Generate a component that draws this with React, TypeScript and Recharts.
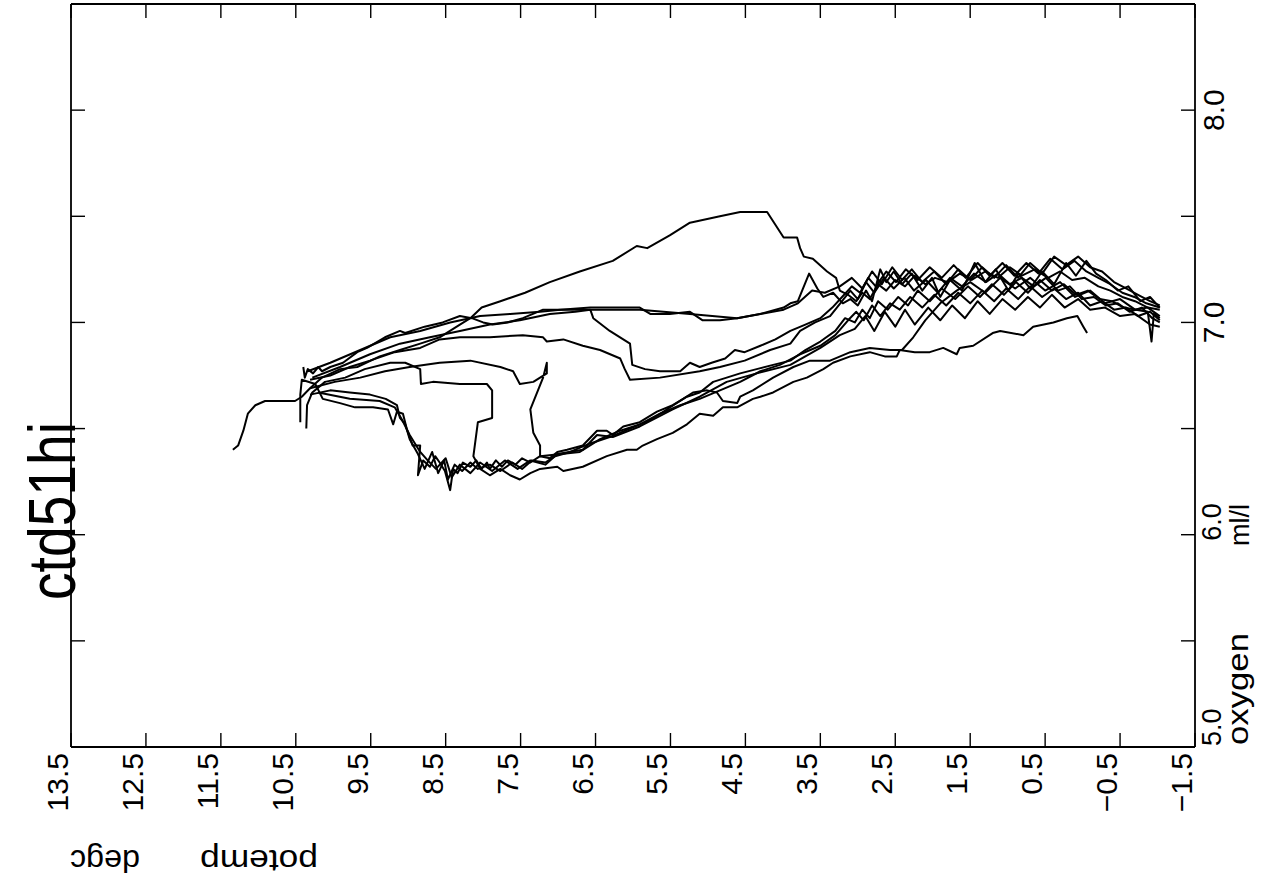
import { LineChart, Line, XAxis, YAxis } from 'recharts'

// each cast is a list of [potemp degc, oxygen ml/l] readings, warm end first
type Pt = [number, number]

const cast01: Pt[] = [
  [11.34, 6.40], [11.27, 6.42], [11.2, 6.49], [11.14, 6.57], [11.04, 6.61], [10.91, 6.63], [10.71, 6.63],
  [10.51, 6.63], [10.42, 6.65], [10.31, 6.69], [10.15, 6.74], [9.91, 6.78], [9.68, 6.79], [9.38, 6.84],
  [9.11, 6.87], [8.84, 6.9], [8.58, 6.93], [8.31, 6.99], [8.17, 7.02], [8.02, 7.07], [7.77, 7.1],
  [7.44, 7.14], [7.11, 7.19], [6.71, 7.24], [6.27, 7.29], [5.95, 7.36], [5.81, 7.35], [5.51, 7.41],
  [5.24, 7.47], [4.84, 7.5], [4.57, 7.52], [4.21, 7.52], [4.1, 7.46], [3.99, 7.4], [3.81, 7.4],
  [3.77, 7.35], [3.72, 7.31], [3.6, 7.3], [3.41, 7.24], [3.29, 7.21], [3.24, 7.15], [3.13, 7.13],
  [3.02, 7.1], [2.94, 7.14], [2.84, 7.11], [2.73, 7.18], [2.62, 7.15], [2.5, 7.2], [2.37, 7.17],
  [2.24, 7.22], [2.1, 7.18], [1.97, 7.21], [1.8, 7.19], [1.64, 7.23], [1.48, 7.2], [1.3, 7.24],
  [1.13, 7.21], [0.97, 7.26], [0.81, 7.22], [0.64, 7.25], [0.46, 7.21], [0.3, 7.24], [0.14, 7.2],
  [-0.03, 7.21], [-0.21, 7.17], [-0.37, 7.15], [-0.53, 7.12], [-0.7, 7.1], [-0.87, 7.07], [-1.03, 7.06],
]

const cast02: Pt[] = [
  [10.4, 6.79], [10.38, 6.74], [10.34, 6.78], [10.27, 6.76], [10.2, 6.79], [10.15, 6.77], [10.04, 6.79],
  [9.87, 6.81], [9.68, 6.86], [9.55, 6.88], [9.31, 6.93], [9.11, 6.96], [9.04, 6.95], [8.78, 6.98],
  [8.54, 7.0], [8.31, 7.03], [8.15, 7.02], [8.0, 7.0], [7.87, 6.99], [7.67, 7.0], [7.47, 7.02],
  [7.2, 7.06], [6.97, 7.06], [6.57, 7.07], [6.24, 7.07], [5.91, 7.07], [5.77, 7.04], [5.51, 7.04],
  [5.24, 7.05], [5.07, 7.01], [4.84, 7.01], [4.61, 7.02], [4.3, 7.04], [3.99, 7.07], [3.9, 7.09],
  [3.8, 7.1], [3.65, 7.23], [3.54, 7.16], [3.46, 7.12], [3.33, 7.14], [3.2, 7.09], [3.1, 7.11],
  [3.0, 7.08], [2.89, 7.15], [2.81, 7.1], [2.7, 7.25], [2.62, 7.19], [2.52, 7.24], [2.41, 7.18],
  [2.28, 7.23], [2.14, 7.15], [2.01, 7.21], [1.9, 7.12], [1.77, 7.2], [1.61, 7.15], [1.44, 7.28],
  [1.3, 7.19], [1.16, 7.25], [0.99, 7.15], [0.86, 7.23], [0.7, 7.16], [0.54, 7.24], [0.38, 7.18],
  [0.22, 7.28], [0.09, 7.22], [-0.05, 7.29], [-0.18, 7.23], [-0.31, 7.2], [-0.47, 7.15], [-0.61, 7.17],
  [-0.77, 7.1], [-0.9, 7.12], [-1.03, 7.07],
]

const cast03: Pt[] = [
  [10.44, 6.53], [10.44, 6.66], [10.42, 6.73], [10.24, 6.71], [10.14, 6.64], [9.91, 6.62], [9.71, 6.6],
  [9.47, 6.6], [9.27, 6.59], [9.2, 6.52], [9.15, 6.58], [9.07, 6.57], [9.02, 6.5], [8.94, 6.42],
  [8.84, 6.42], [8.87, 6.28], [8.8, 6.35], [8.71, 6.32], [8.64, 6.37], [8.58, 6.34], [8.51, 6.3],
  [8.44, 6.21], [8.4, 6.31], [8.34, 6.29], [8.27, 6.34], [8.17, 6.32], [8.09, 6.35], [8.02, 6.31],
  [7.95, 6.34], [7.91, 6.31], [7.83, 6.35], [7.75, 6.32], [7.67, 6.35], [7.57, 6.33], [7.48, 6.36],
  [7.37, 6.34], [7.24, 6.37], [7.11, 6.36], [7.01, 6.39], [6.88, 6.4], [6.67, 6.42], [6.48, 6.49],
  [6.35, 6.49], [6.27, 6.47], [6.13, 6.51], [5.91, 6.53], [5.68, 6.58], [5.47, 6.61], [5.28, 6.65],
  [5.11, 6.67], [4.93, 6.72], [4.75, 6.74], [4.57, 6.76], [4.35, 6.78], [4.13, 6.8], [3.9, 6.82],
  [3.7, 6.87], [3.5, 6.91], [3.3, 6.96], [3.17, 7.02], [3.04, 7.0], [2.94, 7.06], [2.84, 7.02],
  [2.73, 7.1], [2.6, 7.06], [2.46, 7.12], [2.33, 7.08], [2.2, 7.15], [2.04, 7.1], [1.88, 7.16],
  [1.7, 7.11], [1.53, 7.17], [1.37, 7.12], [1.21, 7.18], [1.05, 7.13], [0.89, 7.19], [0.73, 7.14],
  [0.57, 7.2], [0.41, 7.15], [0.25, 7.18], [0.09, 7.13], [-0.07, 7.15], [-0.23, 7.11], [-0.39, 7.1],
  [-0.55, 7.07], [-0.71, 7.06], [-0.87, 7.05], [-0.92, 6.91], [-0.95, 7.04], [-1.03, 7.02],
]

const cast04: Pt[] = [
  [10.36, 6.5], [10.35, 6.61], [10.28, 6.67], [10.11, 6.72], [9.84, 6.74], [9.58, 6.78], [9.24, 6.81],
  [9.04, 6.81], [8.84, 6.78], [8.83, 6.71], [8.67, 6.72], [8.31, 6.71], [7.95, 6.71], [7.88, 6.68],
  [7.88, 6.55], [8.07, 6.53], [8.13, 6.37], [8.04, 6.31], [7.91, 6.28], [7.77, 6.31], [7.64, 6.28],
  [7.51, 6.26], [7.37, 6.29], [7.24, 6.31], [7.01, 6.32], [6.93, 6.3], [6.67, 6.32], [6.35, 6.37],
  [6.08, 6.4], [5.95, 6.4], [5.87, 6.42], [5.68, 6.45], [5.47, 6.48], [5.28, 6.52], [5.11, 6.57],
  [4.93, 6.56], [4.8, 6.6], [4.61, 6.6], [4.4, 6.64], [4.3, 6.65], [4.13, 6.67], [3.86, 6.72],
  [3.68, 6.74], [3.46, 6.78], [3.33, 6.81], [3.1, 6.84], [2.84, 6.86], [2.64, 6.84], [2.48, 6.84],
  [2.44, 6.87], [2.24, 6.86], [2.04, 6.86], [1.86, 6.88], [1.68, 6.85], [1.64, 6.88], [1.46, 6.89],
  [1.2, 6.95], [1.1, 6.96], [0.79, 6.94], [0.66, 6.98], [0.39, 7.0], [0.21, 7.02], [0.07, 7.03],
  [-0.01, 6.98], [-0.06, 6.95],
]

const cast05: Pt[] = [
  [10.31, 6.66], [10.04, 6.68], [9.78, 6.67], [9.51, 6.66], [9.3, 6.64], [9.15, 6.61], [9.11, 6.55],
  [9.04, 6.52], [8.98, 6.45], [8.87, 6.38], [8.78, 6.31], [8.68, 6.39], [8.6, 6.29], [8.52, 6.35],
  [8.47, 6.26], [8.38, 6.33], [8.28, 6.3], [8.17, 6.34], [8.07, 6.31], [7.91, 6.33], [7.77, 6.3],
  [7.61, 6.34], [7.48, 6.31], [7.35, 6.35], [7.17, 6.34], [7.04, 6.37], [6.84, 6.39], [6.57, 6.43],
  [6.31, 6.46], [6.04, 6.5], [5.77, 6.54], [5.55, 6.59], [5.33, 6.64], [5.2, 6.67], [5.01, 6.68],
  [4.88, 6.67], [4.8, 6.63], [4.61, 6.62], [4.57, 6.65], [4.4, 6.68], [4.13, 6.74], [3.86, 6.79],
  [3.64, 6.82], [3.37, 6.82], [3.1, 6.86], [2.84, 6.88], [2.57, 6.87], [2.41, 6.87], [2.26, 6.93],
  [2.1, 7.01], [1.9, 7.09], [1.68, 7.15], [1.5, 7.19], [1.3, 7.14], [1.1, 7.21], [0.9, 7.16],
  [0.7, 7.21], [0.5, 7.15], [0.3, 7.19], [0.1, 7.12], [-0.1, 7.15], [-0.3, 7.09], [-0.5, 7.11],
  [-0.7, 7.06], [-0.87, 7.07], [-1.03, 7.03],
]

const cast06: Pt[] = [
  [10.31, 6.73], [10.04, 6.75], [9.78, 6.79], [9.51, 6.82], [9.18, 6.86], [8.84, 6.88], [8.58, 6.92],
  [8.31, 6.93], [7.91, 6.93], [7.47, 6.94], [7.2, 6.93], [7.15, 6.91], [6.93, 6.92], [6.67, 6.89],
  [6.44, 6.87], [6.17, 6.83], [6.11, 6.78], [6.04, 6.73], [5.64, 6.74], [5.11, 6.77], [4.84, 6.79],
  [4.51, 6.82], [4.17, 6.87], [3.9, 6.9], [3.77, 6.96], [3.57, 7.0], [3.37, 7.03], [3.21, 7.1],
  [3.1, 7.15], [3.0, 7.11], [2.89, 7.19], [2.78, 7.14], [2.65, 7.21], [2.52, 7.16], [2.38, 7.21],
  [2.25, 7.15], [2.09, 7.2], [1.93, 7.14], [1.77, 7.21], [1.61, 7.17], [1.45, 7.23], [1.29, 7.19],
  [1.13, 7.23], [0.97, 7.18], [0.81, 7.21], [0.65, 7.17], [0.49, 7.21], [0.33, 7.15], [0.17, 7.17],
  [0.01, 7.11], [-0.15, 7.12], [-0.31, 7.08], [-0.47, 7.09], [-0.63, 7.05], [-0.79, 7.07], [-0.93, 7.02],
  [-1.03, 7.0],
]

const cast07: Pt[] = [
  [10.31, 6.69], [9.98, 6.72], [9.64, 6.74], [9.31, 6.77], [8.98, 6.79], [8.58, 6.81], [8.17, 6.82],
  [7.77, 6.79], [7.6, 6.77], [7.51, 6.71], [7.33, 6.72], [7.15, 6.76], [7.15, 6.81], [7.2, 6.74],
  [7.37, 6.59], [7.33, 6.48], [7.24, 6.42], [7.24, 6.37], [6.71, 6.39], [6.44, 6.45], [6.17, 6.49],
  [5.91, 6.52], [5.64, 6.57], [5.37, 6.61], [5.11, 6.64], [4.84, 6.68], [4.57, 6.72], [4.3, 6.77],
  [4.04, 6.8], [3.77, 6.85], [3.5, 6.89], [3.3, 6.94], [3.13, 7.01], [3.02, 7.05], [2.92, 7.01],
  [2.81, 7.08], [2.7, 7.03], [2.57, 7.09], [2.44, 7.06], [2.3, 7.12], [2.14, 7.07], [1.98, 7.13],
  [1.82, 7.08], [1.66, 7.14], [1.5, 7.09], [1.34, 7.15], [1.18, 7.1], [1.02, 7.16], [0.86, 7.11],
  [0.7, 7.17], [0.54, 7.12], [0.38, 7.16], [0.22, 7.11], [0.06, 7.14], [-0.1, 7.08], [-0.26, 7.1],
  [-0.42, 7.06], [-0.58, 7.07], [-0.74, 7.03], [-0.9, 7.05], [-1.03, 7.01],
]

const cast08: Pt[] = [
  [10.28, 6.74], [9.91, 6.79], [9.51, 6.85], [9.11, 6.9], [8.71, 6.93], [8.31, 6.96], [7.91, 6.99],
  [7.51, 7.01], [7.11, 7.04], [6.77, 7.05], [6.57, 7.06], [6.53, 7.02], [6.31, 6.96], [6.04, 6.9],
  [6.01, 6.8], [5.84, 6.78], [5.64, 6.77], [5.37, 6.77], [5.24, 6.81], [5.11, 6.79], [4.95, 6.81],
  [4.77, 6.83], [4.64, 6.87], [4.51, 6.86], [4.3, 6.89], [4.1, 6.92], [3.9, 6.96], [3.7, 6.99],
  [3.5, 7.02], [3.34, 7.07], [3.21, 7.12], [3.08, 7.17], [2.97, 7.14], [2.86, 7.21], [2.76, 7.17],
  [2.62, 7.24], [2.49, 7.19], [2.36, 7.25], [2.2, 7.2], [2.04, 7.26], [1.88, 7.21], [1.72, 7.27],
  [1.56, 7.21], [1.4, 7.28], [1.24, 7.22], [1.07, 7.28], [0.91, 7.22], [0.75, 7.28], [0.59, 7.23],
  [0.43, 7.3], [0.27, 7.25], [0.11, 7.29], [-0.05, 7.24], [-0.21, 7.21], [-0.37, 7.18], [-0.53, 7.14],
  [-0.69, 7.12], [-0.85, 7.09], [-1.03, 7.07],
]

const cast09: Pt[] = [
  [10.2, 6.67], [9.78, 6.64], [9.38, 6.63], [9.18, 6.6], [9.08, 6.54], [8.98, 6.47], [8.84, 6.39],
  [8.74, 6.35], [8.63, 6.31], [8.5, 6.36], [8.42, 6.27], [8.31, 6.33], [8.17, 6.29], [8.04, 6.34],
  [7.88, 6.3], [7.71, 6.35], [7.54, 6.31], [7.37, 6.35], [7.17, 6.33], [7.01, 6.38], [6.67, 6.4],
  [6.48, 6.47], [6.27, 6.46], [5.91, 6.51], [5.47, 6.59], [5.11, 6.65], [4.75, 6.72], [4.35, 6.76],
  [3.9, 6.8], [3.5, 6.88], [3.24, 6.94], [3.04, 6.97], [2.9, 7.03], [2.78, 6.96], [2.64, 7.05],
  [2.5, 6.98], [2.37, 7.06], [2.24, 6.99], [2.06, 7.07], [1.9, 7.01], [1.74, 7.08], [1.57, 7.02],
  [1.4, 7.1], [1.24, 7.04], [1.07, 7.11], [0.9, 7.06], [0.73, 7.12], [0.57, 7.07], [0.41, 7.13],
  [0.24, 7.07], [0.06, 7.11], [-0.1, 7.06], [-0.3, 7.07], [-0.5, 7.03], [-0.7, 7.04], [-0.9, 6.99],
  [-1.03, 6.98],
]

const cast10: Pt[] = [
  [10.34, 6.77], [10.04, 6.81], [9.64, 6.87], [9.24, 6.93], [8.84, 6.96], [8.44, 7.0], [8.04, 7.03],
  [7.64, 7.04], [7.24, 7.05], [6.97, 7.06], [6.57, 7.06], [5.91, 7.06], [5.24, 7.04], [4.61, 7.02],
  [3.99, 7.06], [3.8, 7.09], [3.61, 7.15], [3.44, 7.14], [3.24, 7.17], [3.08, 7.21], [2.94, 7.16],
  [2.81, 7.24], [2.68, 7.18], [2.54, 7.26], [2.41, 7.2], [2.28, 7.25], [2.14, 7.19], [1.98, 7.24],
  [1.82, 7.18], [1.66, 7.25], [1.5, 7.2], [1.34, 7.26], [1.18, 7.21], [1.02, 7.27], [0.86, 7.21],
  [0.7, 7.28], [0.54, 7.23], [0.38, 7.31], [0.22, 7.27], [0.06, 7.31], [-0.1, 7.26], [-0.26, 7.24],
  [-0.42, 7.19], [-0.58, 7.16], [-0.74, 7.13], [-0.9, 7.1], [-1.03, 7.08],
]

const casts = [cast01, cast02, cast03, cast04, cast05, cast06, cast07, cast08, cast09, cast10]

const potempTicks = [13.5, 12.5, 11.5, 10.5, 9.5, 8.5, 7.5, 6.5, 5.5, 4.5, 3.5, 2.5, 1.5, 0.5, -0.5, -1.5]
const oxygenTicks = [5, 5.5, 6, 6.5, 7, 7.5, 8, 8.5]

const FONT = '"Liberation Sans", Arial, sans-serif'
const INK = '#000'
const TICK = 14

function fmtPotemp(v: number) {
  return v < 0 ? '\u2212' + Math.abs(v).toFixed(1) : v.toFixed(1)
}

function BottomTick(props: any) {
  const { x, y, payload } = props
  const tx = x - 3
  const ty = y + 6
  return (
    <g>
      <line x1={x} y1={y} x2={x} y2={y - TICK} stroke={INK} strokeWidth={1.4} />
      <text
        x={tx}
        y={ty}
        textAnchor="end"
        transform={`rotate(-90, ${tx}, ${ty})`}
        fontFamily={FONT}
        fontSize={30}
        fill={INK}
      >
        {fmtPotemp(payload.value)}
      </text>
    </g>
  )
}

function TopTick(props: any) {
  const { x, y } = props
  return <line x1={x} y1={y} x2={x} y2={y + TICK} stroke={INK} strokeWidth={1.4} />
}

function LeftTick(props: any) {
  const { x, y } = props
  return <line x1={x} y1={y} x2={x + TICK} y2={y} stroke={INK} strokeWidth={1.4} />
}

function RightTick(props: any) {
  const { x, y, payload } = props
  const v = payload.value as number
  let label = null
  if (v === 7 || v === 8) {
    const tx = x + 29
    label = (
      <text x={tx} y={y} textAnchor="middle" transform={`rotate(-90, ${tx}, ${y})`}
        fontFamily={FONT} fontSize={30} fill={INK}>
        {v.toFixed(1)}
      </text>
    )
  } else if (v === 5 || v === 6) {
    // the two lower labels sit beside the axis title, a little smaller
    const tx = x + 26
    const ty = v === 5 ? y - 1 : y + 6
    label = (
      <text x={tx} y={ty} textAnchor="start" transform={`rotate(-90, ${tx}, ${ty})`}
        fontFamily={FONT} fontSize={27} fill={INK}>
        {v.toFixed(1)}
      </text>
    )
  }
  return (
    <g>
      <line x1={x} y1={y} x2={x - TICK} y2={y} stroke={INK} strokeWidth={1.4} />
      {label}
    </g>
  )
}

export default function App() {
  return (
    <div style={{ position: 'absolute', left: 0, top: 0, width: 1267, height: 883, background: '#fff' }}>
      <LineChart width={1267} height={883} margin={{ top: 3, right: 0, bottom: 0, left: 70 }}>
        <XAxis
          xAxisId="b"
          type="number"
          dataKey="t"
          domain={[-1.5, 13.5]}
          reversed
          allowDataOverflow
          ticks={potempTicks}
          interval={0}
          height={136}
          tickLine={false}
          tickSize={0}
          tickMargin={0}
          axisLine={{ stroke: INK, strokeWidth: 1.8 }}
          tick={BottomTick}
        />
        <XAxis
          xAxisId="t"
          orientation="top"
          type="number"
          dataKey="t"
          domain={[-1.5, 13.5]}
          reversed
          allowDataOverflow
          ticks={potempTicks}
          interval={0}
          height={1}
          tickLine={false}
          tickSize={0}
          tickMargin={0}
          axisLine={{ stroke: INK, strokeWidth: 1.8 }}
          tick={TopTick}
        />
        <YAxis
          yAxisId="r"
          orientation="right"
          type="number"
          dataKey="o"
          domain={[5, 8.5]}
          allowDataOverflow
          ticks={oxygenTicks}
          interval={0}
          width={72}
          tickLine={false}
          tickSize={0}
          tickMargin={0}
          axisLine={{ stroke: INK, strokeWidth: 1.8 }}
          tick={RightTick}
        />
        <YAxis
          yAxisId="l"
          orientation="left"
          type="number"
          dataKey="o"
          domain={[5, 8.5]}
          allowDataOverflow
          ticks={oxygenTicks}
          interval={0}
          width={1}
          tickLine={false}
          tickSize={0}
          tickMargin={0}
          axisLine={{ stroke: INK, strokeWidth: 1.8 }}
          tick={LeftTick}
        />
        {casts.map((c, i) => (
          <Line
            key={i}
            xAxisId="b"
            yAxisId="r"
            data={c.map(([t, o]) => ({ t, o }))}
            dataKey="o"
            type="linear"
            stroke={INK}
            strokeWidth={2}
            strokeLinejoin="round"
            dot={false}
            activeDot={false}
            isAnimationActive={false}
          />
        ))}
      </LineChart>
      <svg width={1267} height={883} style={{ position: 'absolute', left: 0, top: 0, pointerEvents: 'none' }}>
        <text x={75} y={600} transform="rotate(-90, 75, 600)" fontFamily={FONT} fontSize={66}
          textLength={178} lengthAdjust="spacingAndGlyphs" fill={INK}>
          ctd51hi
        </text>
        <text x={140} y={850} transform="rotate(180, 140, 850)" fontFamily={FONT} fontSize={32}
          textLength={70} lengthAdjust="spacingAndGlyphs" fill={INK}>
          degc
        </text>
        <text x={318} y={850} transform="rotate(180, 318, 850)" fontFamily={FONT} fontSize={32}
          textLength={118} lengthAdjust="spacingAndGlyphs" fill={INK}>
          potemp
        </text>
        <text x={1248} y={745} transform="rotate(-90, 1248, 745)" fontFamily={FONT} fontSize={30}
          textLength={112} lengthAdjust="spacingAndGlyphs" fill={INK}>
          oxygen
        </text>
        <text x={1249} y={546} transform="rotate(-90, 1249, 546)" fontFamily={FONT} fontSize={28}
          textLength={42} lengthAdjust="spacingAndGlyphs" fill={INK}>
          ml/l
        </text>
      </svg>
    </div>
  )
}
